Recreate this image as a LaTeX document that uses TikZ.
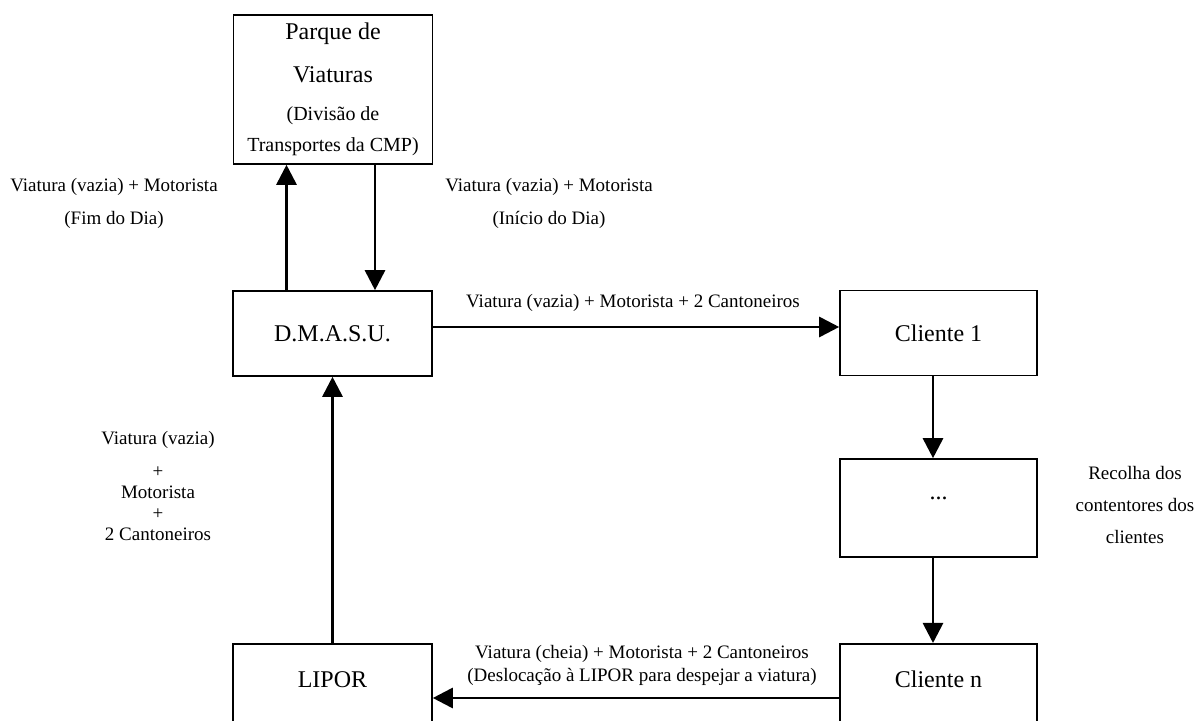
\documentclass[tikz,border=0pt]{standalone}
\usepackage{fontspec}
\setmainfont{Liberation Serif}
\usetikzlibrary{arrows.meta}

\begin{document}
\begin{tikzpicture}[x=0.5pt,y=-0.5pt,
    box/.style={draw, line width=0.8pt, inner sep=0pt, minimum width=99.5pt, minimum height=42.5pt, font=\fontsize{12}{14}\selectfont},
    lbl/.style={inner sep=0pt, align=center, font=\fontsize{9.5}{16.5}\selectfont},
    arr/.style={line width=1.4pt, -{Triangle[length=10pt,width=10pt]}}]
    \clip (0,0) rectangle (1195,721);
    \node [box, minimum height=74.5pt, align=center, font=\fontsize{12}{21.5}\selectfont] (parque) at (333,89.5) {Parque de\\ Viaturas\\[-2.5pt] {\fontsize{10}{12}\selectfont (Divisão de}\\[-6pt] {\fontsize{10}{12}\selectfont Transportes da CMP)}};
    \node [box] (dmasu) at (332.5,333.5) {D.M.A.S.U.};
    \node [box, minimum width=98.5pt] (cliente1) at (938.5,333) {Cliente 1};
    \node [box, minimum width=98.5pt, minimum height=49pt, text height=0pt, text depth=8pt] (dots) at (938.5,508) {...};
    \node [box, anchor=north, minimum height=50pt, text height=8pt, text depth=14pt] (lipor) at (332.5,643) {LIPOR};
    \node [box, anchor=north, minimum width=98.5pt, minimum height=50pt, text height=8pt, text depth=14pt] (clienten) at (938.5,643) {Cliente n};
    \node [lbl] (fimdia) at (114,203) {Viatura (vazia) + Motorista\\ (Fim do Dia)};
    \node [lbl] (iniciodia) at (549,203) {Viatura (vazia) + Motorista\\ (Início do Dia)};
    \node [lbl] (ida) at (633,303) {Viatura (vazia) + Motorista + 2 Cantoneiros};
    \node [lbl] (regresso) at (158,486) {Viatura (vazia)\\ +\\[-6pt] Motorista\\[-6pt] +\\[-6pt] 2 Cantoneiros};
    \node [lbl, font=\fontsize{9.5}{16}\selectfont] (recolha) at (1135,505) {Recolha dos\\ contentores dos\\ clientes};
    \node [lbl] (despejo) at (642,665) {Viatura (cheia) + Motorista + 2 Cantoneiros\\[-5pt] (Deslocação à LIPOR para despejar a viatura)};
    \draw [arr] ([xshift=-23pt]dmasu.north) -- ([xshift=-23pt]dmasu.north |- parque.south);
    \draw [arr] ([xshift=21pt]parque.south) -- ([xshift=21pt]parque.south |- dmasu.north);
    \draw [arr] ([yshift=3.25pt]dmasu.east) -- ([yshift=3.25pt]dmasu.east -| cliente1.west);
    \draw [arr] ([xshift=-2.75pt]cliente1.south) -- ([xshift=-2.75pt]cliente1.south |- dots.north);
    \draw [arr] ([xshift=-2.75pt]dots.south) -- ([xshift=-2.75pt]dots.south |- clienten.north);
    \draw [arr] ([yshift=-27.5pt]clienten.north west) -- ([yshift=-27.5pt]clienten.north west -| lipor.east);
    \draw [arr] (lipor) -- (dmasu);
\end{tikzpicture}
\end{document}
